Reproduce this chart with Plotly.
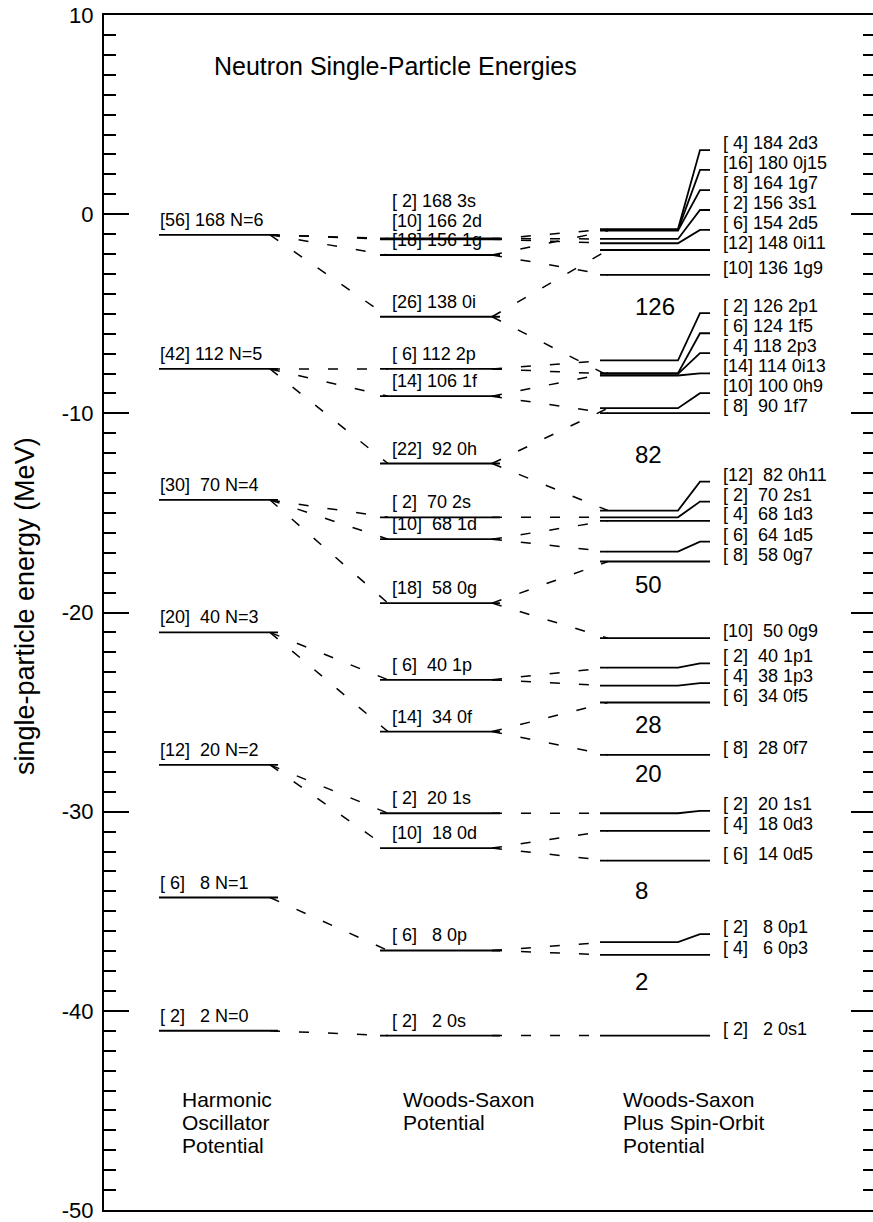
import plotly.graph_objects as go

FONT = "Liberation Sans, Arial, Helvetica, sans-serif"
NBSP = "\u00a0"

# ---------------- data ----------------
# Harmonic oscillator shells
ho_N = [0, 1, 2, 3, 4, 5, 6]
ho_deg = [2, 6, 12, 20, 30, 42, 56]
ho_count = [2, 8, 20, 40, 70, 112, 168]
ho_E = [-41.0, -34.31, -27.65, -21.0, -14.35, -7.77, -1.04]

# Woods-Saxon levels
ws_name = ["0s", "0p", "1s", "0d", "1p", "0f", "2s", "1d", "0g",
           "2p", "1f", "0h", "3s", "2d", "1g", "0i"]
ws_deg = [2, 6, 2, 10, 6, 14, 2, 10, 18, 6, 14, 22, 2, 10, 18, 26]
ws_count = [2, 8, 20, 18, 40, 34, 70, 68, 58, 112, 106, 92, 168, 166, 156, 138]
ws_E = [-41.24, -36.97, -30.08, -31.83, -23.38, -25.98, -15.22, -16.32, -19.53,
        -7.77, -9.14, -12.52, -1.22, -1.26, -2.05, -5.15]
ws_label_E = [-41.24, -36.97, -30.08, -31.83, -23.38, -25.98, -15.22, -16.32, -19.53,
              -7.77, -9.14, -12.52, -0.09, -1.09, -2.05, -5.15]
ws_parent_N = [0, 1, 2, 2, 3, 3, 4, 4, 4, 5, 5, 5, 6, 6, 6, 6]

# Woods-Saxon plus spin-orbit levels
so_name = ["0s1", "0p3", "0p1", "0d5", "0d3", "1s1", "0f7", "0f5", "1p3", "1p1",
           "0g9", "0g7", "1d5", "1d3", "2s1", "0h11", "1f7", "0h9", "0i13", "2p3",
           "1f5", "2p1", "1g9", "0i11", "2d5", "3s1", "1g7", "0j15", "2d3"]
so_deg = [2, 4, 2, 6, 4, 2, 8, 6, 4, 2, 10, 8, 6, 4, 2, 12, 8, 10, 14, 4,
          6, 2, 10, 12, 6, 2, 8, 16, 4]
so_count = [2, 6, 8, 14, 18, 20, 28, 34, 38, 40, 50, 58, 64, 68, 70, 82, 90, 100, 114, 118,
            124, 126, 136, 148, 154, 156, 164, 180, 184]
so_E = [-41.24, -37.19, -36.55, -32.46, -30.96, -30.08, -27.15, -24.52, -23.67, -22.77,
        -21.29, -17.44, -16.94, -15.40, -15.22, -14.88, -9.99, -9.74, -8.10, -8.02,
        -7.98, -7.34, -3.05, -1.80, -1.46, -1.245, -0.83, -0.79, -0.75]
so_label_E = [-41.24, -37.19, -36.15, -32.46, -30.96, -29.96, -27.15, -24.52, -23.55, -22.55,
              -21.29, -17.44, -16.44, -15.40, -14.43, -13.43, -9.99, -8.99, -7.99, -6.98,
              -5.98, -4.97, -3.05, -1.80, -0.79, 0.21, 1.21, 2.22, 3.22]
so_parent = ["0s", "0p", "0p", "0d", "0d", "1s", "0f", "0f", "1p", "1p",
             "0g", "0g", "1d", "1d", "2s", "0h", "1f", "0h", "0i", "2p",
             "1f", "2p", "1g", "0i", "2d", "3s", "1g", None, "2d"]

# shell gaps (magic numbers) and where their text sits
magic_num = [2, 8, 20, 28, 50, 82, 126]
magic_E = [-38.55, -33.98, -28.1, -25.6, -18.57, -12.09, -4.64]

# axis ticks
tick_vals = [10, 0, -10, -20, -30, -40, -50]
tick_text = ["10", "0", "-10", "-20", "-30", "-40", "-50"]

title_text = "Neutron Single-Particle Energies"
ytitle_text = "single-particle energy (MeV)"
column_titles = [["Harmonic", "Oscillator", "Potential"],
                 ["Woods-Saxon", "Potential"],
                 ["Woods-Saxon", "Plus Spin-Orbit", "Potential"]]
column_title_E = [-44.43, -45.6, -46.77]

# ---------------- layout geometry (pixels) ----------------
W, H = 873, 1222
PX_L, PX_R, PX_T, PX_B = 104, 873, 15, 1210
HO_X0, HO_X1 = 159, 278
WS_X0, WS_X1 = 380, 500
SO_X0, SO_BEND, SO_X2, SO_X3 = 600, 678, 700, 710
CONN_IN = 8
HO_LX, WS_LX, SO_LX, MAGIC_X = 158, 390, 721, 633
TITLE_X, TITLE_E = 212, 7.46
COL_TITLE_X = [180, 401, 621]
YTITLE_PX = (25, 606)
DASH = "10px,19px"
LW_LEVEL = 1.8
LW_CONN = 1.5


def pfx(px):
    return (px - PX_L) / (PX_R - PX_L)


def pfy(py):
    return (PX_B - py) / (PX_B - PX_T)


def label(d, c, name):
    return f"[{d:2d}] {c:3d} {name}".replace(" ", NBSP)


fig = go.Figure()

# Harmonic oscillator levels
hx, hy = [], []
for e in ho_E:
    hx += [HO_X0, HO_X1, None]
    hy += [e, e, None]
fig.add_trace(go.Scatter(x=hx, y=hy, mode="lines",
                         line=dict(color="black", width=LW_LEVEL),
                         hoverinfo="skip", showlegend=False))

# Woods-Saxon levels
wx, wy = [], []
for e in ws_E:
    wx += [WS_X0, WS_X1, None]
    wy += [e, e, None]
fig.add_trace(go.Scatter(x=wx, y=wy, mode="lines",
                         line=dict(color="black", width=LW_LEVEL),
                         hoverinfo="skip", showlegend=False))

# Spin-orbit levels (with bend to label position); drawn on the mirrored right axis
sx, sy = [], []
for e, le in zip(so_E, so_label_E):
    sx += [SO_X0, SO_BEND, SO_X2, SO_X3, None]
    sy += [e, e, le, le, None]
fig.add_trace(go.Scatter(x=sx, y=sy, mode="lines", yaxis="y2",
                         line=dict(color="black", width=LW_LEVEL),
                         hoverinfo="skip", showlegend=False))

# connectors HO -> WS
for e, n in zip(ws_E, ws_parent_N):
    fig.add_trace(go.Scatter(x=[HO_X1 - CONN_IN, WS_X0 + CONN_IN],
                             y=[ho_E[ho_N.index(n)], e], mode="lines",
                             line=dict(color="black", width=LW_CONN, dash=DASH),
                             hoverinfo="skip", showlegend=False))

# connectors WS -> SO
for e, p in zip(so_E, so_parent):
    if p is None:
        continue
    fig.add_trace(go.Scatter(x=[WS_X1 - CONN_IN, SO_X0 + CONN_IN],
                             y=[ws_E[ws_name.index(p)], e], mode="lines",
                             line=dict(color="black", width=LW_CONN, dash=DASH),
                             hoverinfo="skip", showlegend=False))

ann = []
LAB_FONT = dict(family=FONT, size=18, color="black")
for n, d, c, e in zip(ho_N, ho_deg, ho_count, ho_E):
    ann.append(dict(x=HO_LX, y=e, xref="x", yref="y", xanchor="left", yanchor="bottom",
                    yshift=3, showarrow=False, font=LAB_FONT, text=label(d, c, f"N={n}")))
for nm, d, c, le in zip(ws_name, ws_deg, ws_count, ws_label_E):
    ann.append(dict(x=WS_LX, y=le, xref="x", yref="y", xanchor="left", yanchor="bottom",
                    yshift=3, showarrow=False, font=LAB_FONT, text=label(d, c, nm)))
for nm, d, c, le in zip(so_name, so_deg, so_count, so_label_E):
    ann.append(dict(x=SO_LX, y=le, xref="x", yref="y", xanchor="left", yanchor="bottom",
                    yshift=-5, showarrow=False, font=LAB_FONT, text=label(d, c, nm)))
for m, e in zip(magic_num, magic_E):
    ann.append(dict(x=MAGIC_X, y=e, xref="x", yref="y", xanchor="left", yanchor="middle",
                    showarrow=False, font=dict(family=FONT, size=24, color="black"),
                    text=str(m)))
ann.append(dict(x=TITLE_X, y=TITLE_E, xref="x", yref="y", xanchor="left", yanchor="middle",
                showarrow=False, font=dict(family=FONT, size=25, color="black"),
                text=title_text))
for cx, lines in zip(COL_TITLE_X, column_titles):
    for t, e in zip(lines, column_title_E):
        ann.append(dict(x=cx, y=e, xref="x", yref="y", xanchor="left", yanchor="middle",
                        showarrow=False, font=dict(family=FONT, size=21, color="black"),
                        text=t))
ann.append(dict(x=pfx(YTITLE_PX[0]), y=pfy(YTITLE_PX[1]), xref="paper", yref="paper",
                xanchor="center", yanchor="middle", textangle=-90, showarrow=False,
                font=dict(family=FONT, size=27, color="black"), text=ytitle_text))

fig.update_layout(
    width=W, height=H,
    margin=dict(l=PX_L, r=W - PX_R, t=PX_T, b=H - PX_B, pad=0),
    paper_bgcolor="white", plot_bgcolor="white",
    showlegend=False,
    annotations=ann,
    xaxis=dict(range=[PX_L, PX_R], showgrid=False, zeroline=False,
               showticklabels=False, ticks="", showline=True, mirror=True,
               linecolor="black", linewidth=2, fixedrange=True),
    yaxis=dict(range=[-50, 10], showgrid=False, zeroline=False,
               tickmode="array", tickvals=tick_vals, ticktext=tick_text,
               ticks="inside", ticklen=25, tickwidth=1.5, tickcolor="black",
               tickfont=dict(family=FONT, size=22, color="black"),
               ticklabelstandoff=4, ticklabeloverflow="allow",
               minor=dict(tickmode="linear", tick0=0, dtick=1, ticks="inside",
                          ticklen=12, tickwidth=1.5, tickcolor="black", showgrid=False),
               showline=True, linecolor="black", linewidth=2, fixedrange=True),
    yaxis2=dict(range=[-50, 10], overlaying="y", side="right", anchor="x",
                showgrid=False, zeroline=False, showticklabels=False,
                tickmode="array", tickvals=tick_vals,
                ticks="inside", ticklen=22, tickwidth=1.5, tickcolor="black",
                minor=dict(tickmode="linear", tick0=0, dtick=1, ticks="inside",
                           ticklen=10, tickwidth=1.5, tickcolor="black", showgrid=False),
                showline=False, fixedrange=True),
)

fig.write_html("out.html", config={"displayModeBar": False})
